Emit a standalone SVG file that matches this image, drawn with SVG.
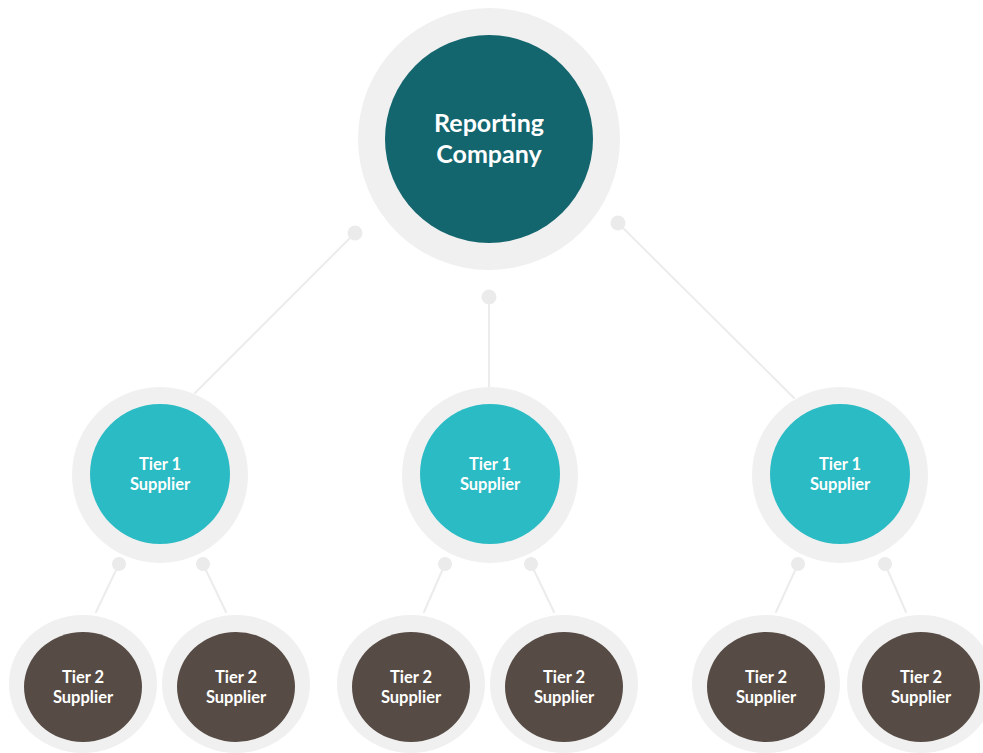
<svg xmlns="http://www.w3.org/2000/svg" width="983" height="753" viewBox="0 0 983 753">
  <style>
    .ring { fill: #f0f0f0; }
    .root { fill: #13656e; }
    .tier1 { fill: #2bbbc4; }
    .tier2 { fill: #574c45; }
    .link { stroke: #ececec; stroke-width: 2; fill: none; stroke-linecap: round; }
    .dot { fill: #ebebeb; }
    .label { font-family: Lato, "Liberation Sans", sans-serif; font-weight: 700; fill: #ffffff; text-anchor: middle; }
    .l-root { font-size: 25px; }
    .l-node { font-size: 16.5px; }
  </style>
  <rect width="983" height="753" fill="#ffffff"/>

  <!-- connectors: line plus a small knob at the parent end -->
  <g id="connectors">
    <line class="link" x1="355" y1="233" x2="195" y2="393"/>
    <line class="link" x1="489" y1="297" x2="489" y2="390"/>
    <line class="link" x1="618" y1="223" x2="794" y2="398"/>
    <circle class="dot" cx="355" cy="233" r="7.5"/>
    <circle class="dot" cx="489" cy="297" r="7.5"/>
    <circle class="dot" cx="618" cy="223" r="7.5"/>

    <line class="link" x1="119" y1="564" x2="96" y2="612"/>
    <line class="link" x1="203" y1="564" x2="226" y2="612"/>
    <line class="link" x1="445" y1="564" x2="424" y2="612"/>
    <line class="link" x1="531" y1="564" x2="554" y2="612"/>
    <line class="link" x1="798" y1="564" x2="776" y2="612"/>
    <line class="link" x1="885" y1="564" x2="906" y2="612"/>
    <circle class="dot" cx="119" cy="564" r="7"/>
    <circle class="dot" cx="203" cy="564" r="7"/>
    <circle class="dot" cx="445" cy="564" r="7"/>
    <circle class="dot" cx="531" cy="564" r="7"/>
    <circle class="dot" cx="798" cy="564" r="7"/>
    <circle class="dot" cx="885" cy="564" r="7"/>
  </g>

  <!-- top node -->
  <g id="reporting-company">
    <circle class="ring" cx="489" cy="139" r="131"/>
    <circle class="root" cx="489" cy="139" r="104"/>
    <text class="label l-root" x="489" y="132">Reporting</text>
    <text class="label l-root" x="489" y="163">Company</text>
  </g>

  <!-- tier 1 -->
  <g id="tier1-a">
    <circle class="ring" cx="160" cy="475" r="88"/>
    <circle class="tier1" cx="160" cy="474" r="70"/>
    <text class="label l-node" x="160" y="470">Tier 1</text>
    <text class="label l-node" x="160" y="490">Supplier</text>
  </g>
  <g id="tier1-b">
    <circle class="ring" cx="490" cy="475" r="88"/>
    <circle class="tier1" cx="490" cy="474" r="70"/>
    <text class="label l-node" x="490" y="470">Tier 1</text>
    <text class="label l-node" x="490" y="490">Supplier</text>
  </g>
  <g id="tier1-c">
    <circle class="ring" cx="840" cy="475" r="88"/>
    <circle class="tier1" cx="840" cy="474" r="70"/>
    <text class="label l-node" x="840" y="470">Tier 1</text>
    <text class="label l-node" x="840" y="490">Supplier</text>
  </g>

  <!-- tier 2 -->
  <g id="tier2-a1">
    <ellipse class="ring" cx="83" cy="684" rx="74" ry="69"/>
    <ellipse class="tier2" cx="83" cy="687" rx="59" ry="55"/>
    <text class="label l-node" x="83" y="683">Tier 2</text>
    <text class="label l-node" x="83" y="703">Supplier</text>
  </g>
  <g id="tier2-a2">
    <ellipse class="ring" cx="236" cy="684" rx="74" ry="69"/>
    <ellipse class="tier2" cx="236" cy="687" rx="59" ry="55"/>
    <text class="label l-node" x="236" y="683">Tier 2</text>
    <text class="label l-node" x="236" y="703">Supplier</text>
  </g>
  <g id="tier2-b1">
    <ellipse class="ring" cx="411" cy="684" rx="74" ry="69"/>
    <ellipse class="tier2" cx="411" cy="687" rx="59" ry="55"/>
    <text class="label l-node" x="411" y="683">Tier 2</text>
    <text class="label l-node" x="411" y="703">Supplier</text>
  </g>
  <g id="tier2-b2">
    <ellipse class="ring" cx="564" cy="684" rx="74" ry="69"/>
    <ellipse class="tier2" cx="564" cy="687" rx="59" ry="55"/>
    <text class="label l-node" x="564" y="683">Tier 2</text>
    <text class="label l-node" x="564" y="703">Supplier</text>
  </g>
  <g id="tier2-c1">
    <ellipse class="ring" cx="766" cy="684" rx="74" ry="69"/>
    <ellipse class="tier2" cx="766" cy="687" rx="59" ry="55"/>
    <text class="label l-node" x="766" y="683">Tier 2</text>
    <text class="label l-node" x="766" y="703">Supplier</text>
  </g>
  <g id="tier2-c2">
    <ellipse class="ring" cx="921" cy="684" rx="74" ry="69"/>
    <ellipse class="tier2" cx="921" cy="687" rx="59" ry="55"/>
    <text class="label l-node" x="921" y="683">Tier 2</text>
    <text class="label l-node" x="921" y="703">Supplier</text>
  </g>
</svg>
